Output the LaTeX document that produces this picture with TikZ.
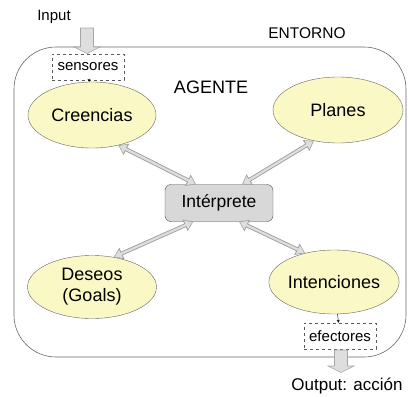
\documentclass[tikz,border=0pt]{standalone}
\usepackage{fontspec}
\setmainfont{Liberation Sans}
\usetikzlibrary{shapes.geometric,arrows.meta}
\definecolor{elfill}{RGB}{250,248,196}
\definecolor{boxfill}{RGB}{216,216,216}
\definecolor{arrfill}{RGB}{222,222,222}
% flecha gruesa hacia abajo: #1 = punto superior, #2 = largo del cuerpo
\newcommand{\fatarrow}[2]{\draw[fat] #1 ++(-6.5,0) -- ++(13,0) -- ++(0,#2) -- ++(6.5,0)
  -- ++(-13,6.5) -- ++(-13,-6.5) -- ++(6.5,0) -- cycle;}

\begin{document}
\begin{tikzpicture}[x=1pt,y=-1pt,
    big node/.style={ellipse,draw=gray!80!black,fill=elfill,inner sep=0pt,font=\fontsize{18}{21}\selectfont,align=center},
    io node/.style={draw=gray!70!black,dashed,font=\fontsize{15}{17}\selectfont,inner sep=0pt,minimum width=72pt,minimum height=26pt},
    dbl out/.style={line width=4pt,draw=gray!75,{Triangle[length=9pt,width=12pt]}-{Triangle[length=9pt,width=12pt]}},
    dbl in/.style={line width=2.2pt,draw=arrfill,shorten <=1.2pt,shorten >=1.2pt,{Triangle[length=6.8pt,width=9pt]}-{Triangle[length=6.8pt,width=9pt]}},
    fat/.style={draw=gray!70,fill=arrfill,line width=0.6pt,line join=miter},
    thin/.style={-{Stealth[length=3pt,width=3pt]},line width=0.4pt}]
  \useasboundingbox (0,0) rectangle (408,397);
  % entorno / agente
  \draw[gray!80!black,line width=0.6pt,rounded corners=42pt] (14,47) rectangle (406,357);
  \node[font=\fontsize{15.5}{18}\selectfont] (ent) at (307,33) {ENTORNO};
  \node[font=\fontsize{18}{21}\selectfont] (ag) at (211,87) {AGENTE};
  % input
  \node[font=\fontsize{15}{17}\selectfont] (in) at (54,17) {Input};
  \coordinate (inp) at (87,28);
  \fatarrow{(inp)}{19}
  \node[io node,fill=white] (sens) at (88,67) {sensores};
  % estados
  \node[big node,minimum width=128pt,minimum height=66pt] (creen) at (92,115) {Creencias};
  \node[big node,minimum width=130pt,minimum height=66pt] (plan) at (338,110) {Planes};
  \node[big node,minimum width=129pt,minimum height=63pt] (des) at (92,287) {Deseos\\(Goals)};
  \node[big node,minimum width=121pt,minimum height=64pt] (inten) at (334,282) {Intenciones};
  \node[draw=gray!60!black,fill=boxfill,rounded corners=6pt,minimum width=108pt,minimum height=37pt,inner sep=0pt,font=\fontsize{17.5}{20}\selectfont] (interp) at (219,203) {Int\'erprete};
  % output
  \node[io node] (efec) at (340,336) {efectores};
  \coordinate (outp) at (341,350);
  \fatarrow{(outp)}{16}
  \node[font=\fontsize{17}{20}\selectfont] (out) at (347,386) {Output: acci\'on};
  % flechas
  \draw[thin] (sens) -- (creen);
  \draw[thin] (inten) -- (efec);
  \draw[dbl out] (creen.-49) -- (interp.141);
  \draw[dbl in] (creen.-49) -- (interp.141);
  \draw[dbl out] (plan.-128) -- (interp.39);
  \draw[dbl in] (plan.-128) -- (interp.39);
  \draw[dbl out] (interp.-144) -- (des.54);
  \draw[dbl in] (interp.-144) -- (des.54);
  \draw[dbl out] (interp.-43) -- (inten.135);
  \draw[dbl in] (interp.-43) -- (inten.135);
\end{tikzpicture}
\end{document}
